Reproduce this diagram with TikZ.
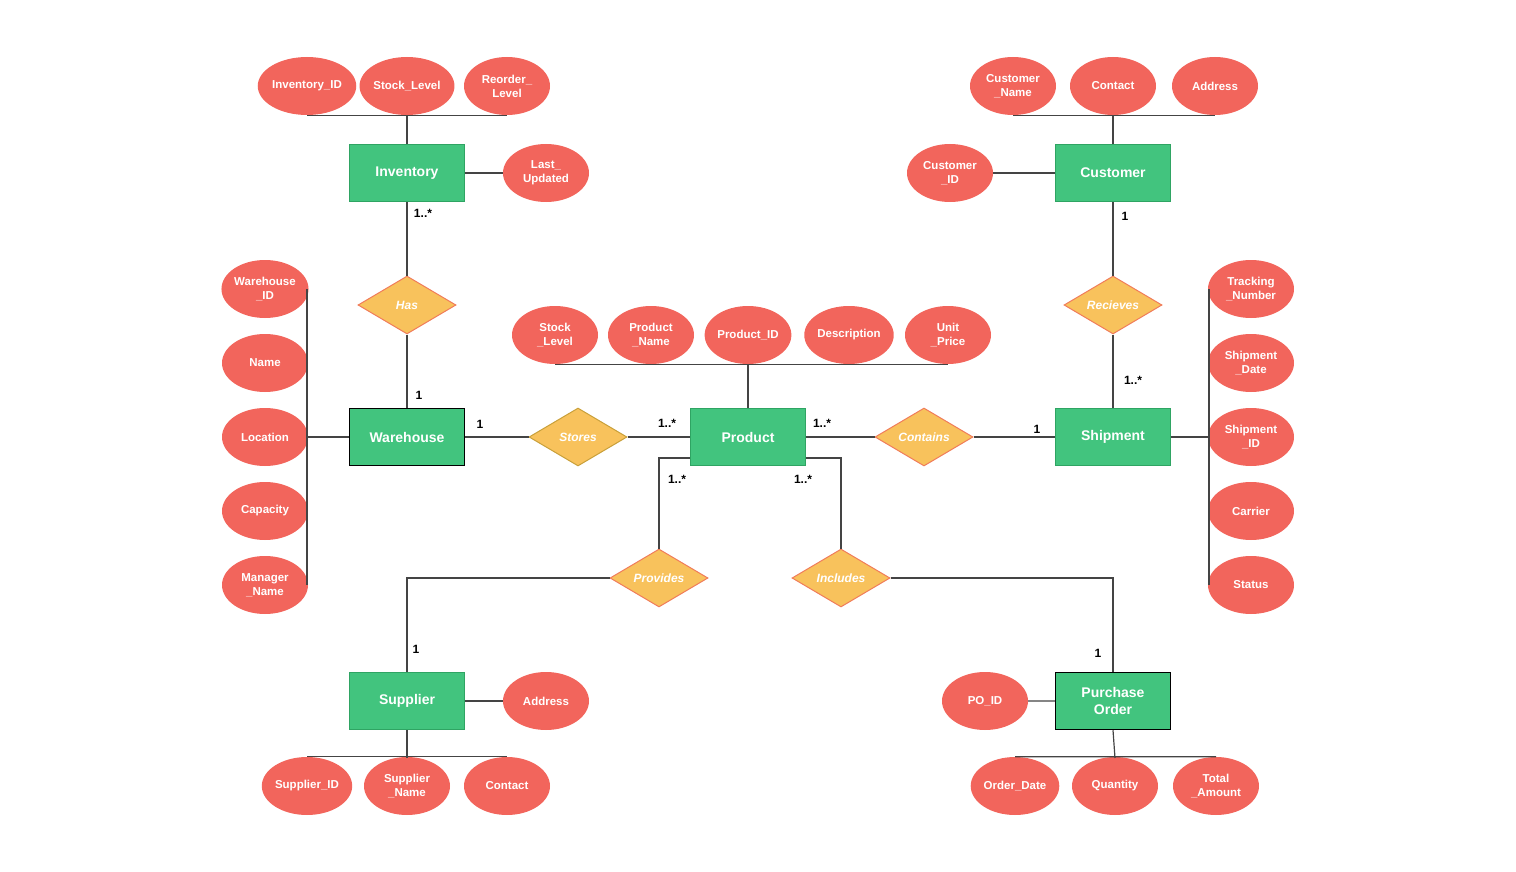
\documentclass[tikz,border=0pt]{standalone}
\usepackage{fontspec}
\setmainfont{Liberation Sans}
\usetikzlibrary{shapes.geometric}
\definecolor{ent}{HTML}{42C47E}
\definecolor{entb}{HTML}{2FA463}
\definecolor{att}{HTML}{F2655C}
\definecolor{rel}{HTML}{F8C25C}
\definecolor{relb}{HTML}{F07C5A}
\definecolor{relg}{HTML}{C9A03A}
\definecolor{ln}{HTML}{444444}
\begin{document}
\begin{tikzpicture}[x=1pt,y=-1pt,
  every node/.style={font=\fontsize{12}{12}\selectfont\bfseries},
  ent/.style={draw=entb,line width=1.2pt,fill=ent,text=white,minimum width=115pt,minimum height=57pt,align=center,font=\fontsize{14}{17}\selectfont\bfseries},
  entk/.style={ent,draw=black,line width=1.5pt},
  att/.style={ellipse,fill=att,text=white,minimum width=86pt,minimum height=58pt,inner sep=0pt,align=center,font=\fontsize{11.5}{14}\selectfont\bfseries},
  rel/.style={diamond,draw=relb,line width=1pt,fill=rel,text=white,minimum width=98pt,minimum height=58pt,aspect=1.7,inner sep=0pt,font=\fontsize{12}{12}\selectfont\bfseries\itshape},
  lk/.style={draw=ln,line width=1.2pt},
  card/.style={font=\fontsize{12}{12}\selectfont\bfseries,text=black}]
\useasboundingbox (0,0) rectangle (1516,872);
% entities
\node[ent] (inv) at (407,173) {Inventory};
\node[ent] (cus) at (1113,173) {Customer};
\node[entk] (wh) at (407,437) {Warehouse};
\node[ent] (prod) at (748,437) {Product};
\node[ent] (ship) at (1113,437) {Shipment};
\node[ent] (sup) at (407,701) {Supplier};
\node[entk] (po) at (1113,701) {Purchase\\Order};
% relations
\node[rel] (has) at (407,305) {Has};
\node[rel] (rec) at (1113,305) {Recieves};
\node[rel,draw=relg] (sto) at (578,437) {Stores};
\node[rel] (con) at (924,437) {Contains};
\node[rel] (pro) at (659,578) {Provides};
\node[rel] (inc) at (841,578) {Includes};
% attributes
\node[att] (a1) at (307,86) {Inventory\_ID};
\node[att] (a2) at (407,86) {Stock\_Level};
\node[att] (a3) at (507,86) {Reorder\_\\Level};
\node[att] (a4) at (546,173) {Last\_\\Updated};
\node[att] (c1) at (1013,86) {Customer\\\_Name};
\node[att] (c2) at (1113,86) {Contact};
\node[att] (c3) at (1215,86) {Address};
\node[att] (c4) at (950,173) {Customer\\\_ID};
\node[att] (w1) at (265,289) {Warehouse\\\_ID};
\node[att] (w2) at (265,363) {Name};
\node[att] (w3) at (265,437) {Location};
\node[att] (w4) at (265,511) {Capacity};
\node[att] (w5) at (265,585) {Manager\\\_Name};
\node[att] (p1) at (555,335) {Stock\\\_Level};
\node[att] (p2) at (651,335) {Product\\\_Name};
\node[att] (p3) at (748,335) {Product\_ID};
\node[att] (p4) at (849,335) {Description};
\node[att] (p5) at (948,335) {Unit\\\_Price};
\node[att] (s1) at (1251,289) {Tracking\\\_Number};
\node[att] (s2) at (1251,363) {Shipment\\\_Date};
\node[att] (s3) at (1251,437) {Shipment\\\_ID};
\node[att] (s4) at (1251,511) {Carrier};
\node[att] (s5) at (1251,585) {Status};
\node[att] (u1) at (546,701) {Address};
\node[att] (u2) at (307,786) {Supplier\_ID};
\node[att] (u3) at (407,786) {Supplier\\\_Name};
\node[att] (u4) at (507,786) {Contact};
\node[att] (o1) at (985,701) {PO\_ID};
\node[att] (o2) at (1015,786) {Order\_Date};
\node[att] (o3) at (1115,786) {Quantity};
\node[att] (o4) at (1216,786) {Total\\\_Amount};
% attribute links
\draw[lk] (a1.south) -- (a3.south) (a2.south) -- (inv.north) (inv.east) -- (a4.west);
\draw[lk] (c1.south) -- (c3.south) (c2.south) -- (cus.north) (cus.west) -- (c4.east);
\draw[lk] (307,289) -- (307,585) (307,437) -- (wh.west);
\draw[lk] (p1.south) -- (p5.south) (p3.south) -- (prod.north);
\draw[lk] (1209,289) -- (1209,585) (1209,437) -- (ship.east);
\draw[lk] (sup.east) -- (u1.west) (u2.north) -- (u4.north) (sup.south) -- (407,758);
\draw[lk] (po.west) -- (o1.east) (o2.north) -- (o4.north) (po.south) -- (1115,758);
% relationship links
\draw[lk] (inv.south) -- (has.north) (has.south) -- (wh.north);
\draw[lk] (cus.south) -- (rec.north) (rec.south) -- (ship.north);
\draw[lk] (wh.east) -- (sto.west) (sto.east) -- (prod.west);
\draw[lk] (prod.east) -- (con.west) (con.east) -- (ship.west);
\draw[lk] (prod.west |- 0,458) -- (659,458) -- (pro.north);
\draw[lk] (pro.west) -- (407,578) -- (sup.north);
\draw[lk] (prod.east |- 0,458) -- (841,458) -- (inc.north);
\draw[lk] (inc.east) -- (1113,578) -- (po.north);
% cardinalities
\node[card] at (423,213) {1..*};
\node[card] at (419,395) {1};
\node[card] at (1125,216) {1};
\node[card] at (1133,380) {1..*};
\node[card] at (480,424) {1};
\node[card] at (667,423) {1..*};
\node[card] at (822,423) {1..*};
\node[card] at (1037,429) {1};
\node[card] at (677,479) {1..*};
\node[card] at (416,649) {1};
\node[card] at (803,479) {1..*};
\node[card] at (1098,653) {1};
\end{tikzpicture}
\end{document}
